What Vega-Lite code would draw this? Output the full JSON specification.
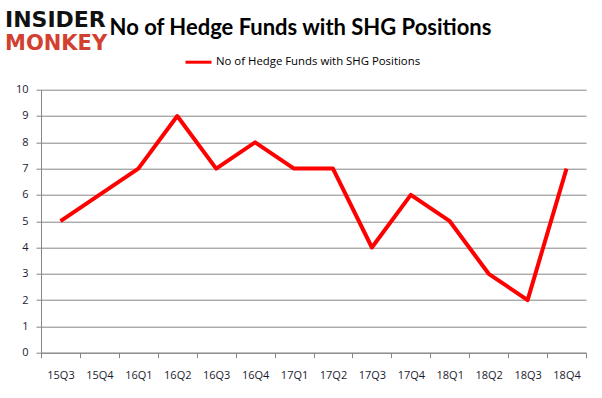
{
  "$schema": "https://vega.github.io/schema/vega-lite/v6.json",
  "width": 545,
  "height": 263,
  "autosize": {"type": "none"},
  "padding": {"left": 41, "top": 89.7, "right": 16, "bottom": 45},
  "background": "#ffffff",
  "title": {
    "text": "No of Hedge Funds with SHG Positions",
    "font": "Lato",
    "fontSize": 22,
    "fontWeight": "bold",
    "color": "#000000",
    "anchor": "middle",
    "frame": "group",
    "dx": -13,
    "offset": -31
  },
  "config": {
    "view": {"stroke": null},
    "axis": {"labelFont": "Open Sans", "labelFontSize": 11, "labelColor": "#1a1a2e"},
    "legend": {"labelFont": "Open Sans", "labelFontSize": 11.4, "labelColor": "#000000"}
  },
  "data": {
    "values": [
      {"quarter": "15Q3", "funds": 5, "series": "No of Hedge Funds with SHG Positions"},
      {"quarter": "15Q4", "funds": 6, "series": "No of Hedge Funds with SHG Positions"},
      {"quarter": "16Q1", "funds": 7, "series": "No of Hedge Funds with SHG Positions"},
      {"quarter": "16Q2", "funds": 9, "series": "No of Hedge Funds with SHG Positions"},
      {"quarter": "16Q3", "funds": 7, "series": "No of Hedge Funds with SHG Positions"},
      {"quarter": "16Q4", "funds": 8, "series": "No of Hedge Funds with SHG Positions"},
      {"quarter": "17Q1", "funds": 7, "series": "No of Hedge Funds with SHG Positions"},
      {"quarter": "17Q2", "funds": 7, "series": "No of Hedge Funds with SHG Positions"},
      {"quarter": "17Q3", "funds": 4, "series": "No of Hedge Funds with SHG Positions"},
      {"quarter": "17Q4", "funds": 6, "series": "No of Hedge Funds with SHG Positions"},
      {"quarter": "18Q1", "funds": 5, "series": "No of Hedge Funds with SHG Positions"},
      {"quarter": "18Q2", "funds": 3, "series": "No of Hedge Funds with SHG Positions"},
      {"quarter": "18Q3", "funds": 2, "series": "No of Hedge Funds with SHG Positions"},
      {"quarter": "18Q4", "funds": 7, "series": "No of Hedge Funds with SHG Positions"}
    ]
  },
  "layer": [
    {
      "mark": {"type": "line", "strokeWidth": 4, "strokeJoin": "round"},
      "encoding": {
        "x": {
          "field": "quarter",
          "type": "ordinal",
          "sort": null,
          "scale": {"type": "band", "paddingInner": 0, "paddingOuter": 0},
          "axis": {
            "title": null,
            "labelAngle": 0,
            "tickBand": "extent",
            "domainColor": "#868686",
            "tickColor": "#868686",
            "tickSize": 5,
            "labelPadding": 12,
            "grid": false
          }
        },
        "y": {
          "field": "funds",
          "type": "quantitative",
          "scale": {"domain": [0, 10], "nice": false},
          "axis": {
            "title": null,
            "values": [0, 1, 2, 3, 4, 5, 6, 7, 8, 9, 10],
            "grid": true,
            "gridColor": "#868686",
            "domainColor": "#868686",
            "tickColor": "#868686",
            "tickSize": 5,
            "labelPadding": 8
          }
        },
        "color": {
          "field": "series",
          "type": "nominal",
          "scale": {"range": ["#ff0000"]},
          "legend": {
            "title": null,
            "orient": "none",
            "legendX": 143,
            "legendY": -42,
            "symbolType": "stroke",
            "symbolStrokeWidth": 3,
            "symbolSize": 676,
            "labelOffset": 3,
            "labelLimit": 400,
            "padding": 0
          }
        }
      }
    },
    {
      "data": {"values": [{"word": "INSIDER"}]},
      "mark": {"type": "text", "font": "DejaVu Sans", "fontWeight": "bold", "fontSize": 22, "color": "#111111", "align": "left", "baseline": "alphabetic"},
      "encoding": {"text": {"field": "word"}, "x": {"value": -36}, "y": {"value": -62.7}}
    },
    {
      "data": {"values": [{"word": "MONKEY"}]},
      "mark": {"type": "text", "font": "DejaVu Sans", "fontWeight": "bold", "fontSize": 21, "color": "#d24030", "align": "left", "baseline": "alphabetic"},
      "encoding": {"text": {"field": "word"}, "x": {"value": -36}, "y": {"value": -39.7}}
    }
  ]
}
